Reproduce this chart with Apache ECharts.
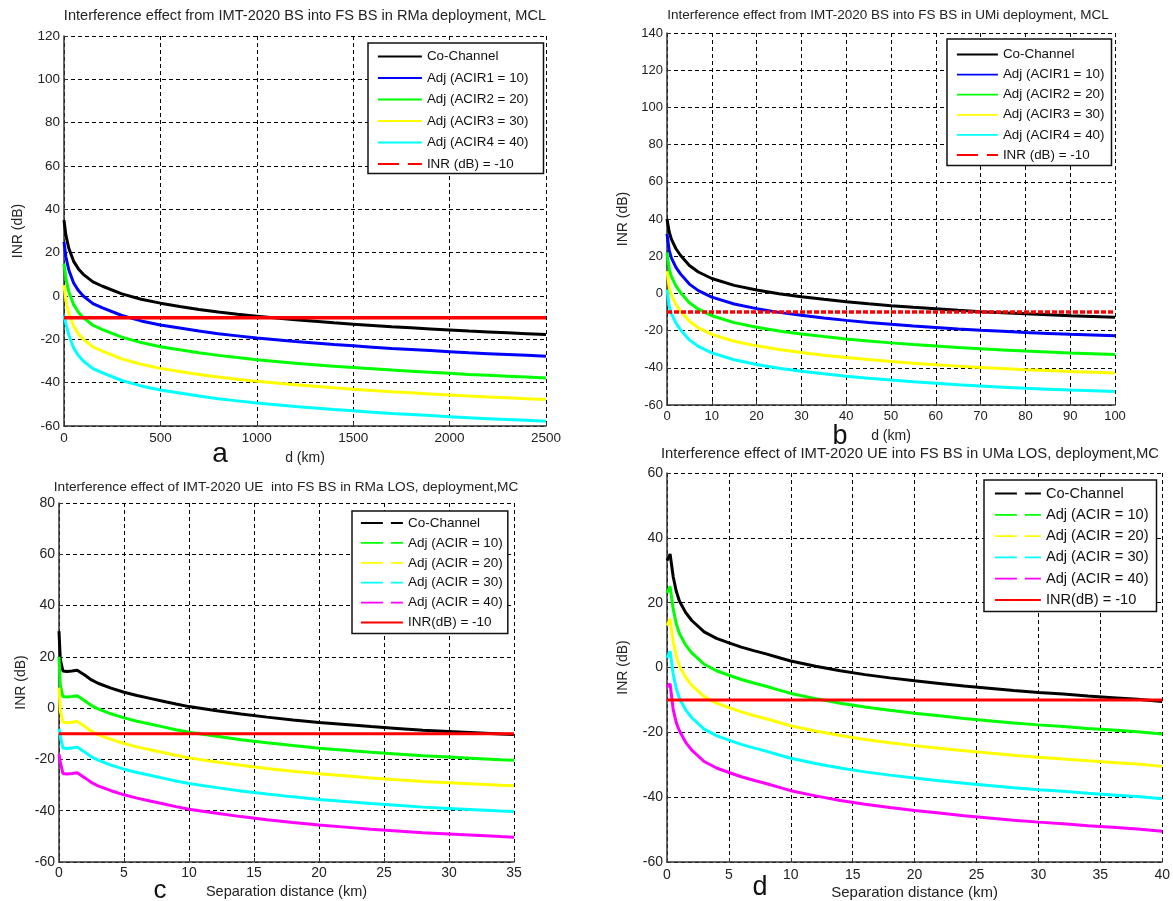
<!DOCTYPE html>
<html><head><meta charset="utf-8">
<script src="https://cdn.jsdelivr.net/npm/echarts@6/dist/echarts.min.js"></script>
<style>html,body{margin:0;padding:0;background:#fff}#c{width:1173px;height:901px}</style>
</head><body><div id="c"></div>
<script>
// ---------- Panel a: IMT-2020 BS into FS BS, RMa (d in km) ----------
const aX    = [0, 10, 25, 50, 75, 100, 150, 200, 300, 400, 500, 600, 700, 800, 900, 1000, 1100, 1200, 1300, 1400, 1500, 1600, 1700, 1800, 1900, 2000, 2100, 2200, 2300, 2400, 2500];
const aCo   = [35, 28, 22, 16, 12.5, 10, 6.5, 4.5, 1, -1.5, -3.3, -4.8, -6.2, -7.4, -8.4, -9.3, -10.2, -11, -11.7, -12.4, -13, -13.6, -14.2, -14.7, -15.2, -15.7, -16.2, -16.6, -17, -17.4, -17.8];
const aAdj1 = [25, 18, 12, 6, 2.5, 0, -3.5, -5.5, -9, -11.5, -13.4, -14.8, -16.2, -17.4, -18.4, -19.4, -20.2, -21, -21.7, -22.4, -23, -23.6, -24.2, -24.7, -25.2, -25.7, -26.2, -26.6, -27, -27.4, -27.8];
const aAdj2 = [15, 8, 2, -4, -7.5, -10, -13.5, -15.5, -19, -21.5, -23.4, -24.8, -26.2, -27.4, -28.4, -29.4, -30.2, -31, -31.7, -32.4, -33, -33.6, -34.2, -34.7, -35.2, -35.7, -36.2, -36.6, -37, -37.4, -37.8];
const aAdj3 = [5, -2, -8, -14, -17.5, -20, -23.5, -25.5, -29, -31.5, -33.4, -34.8, -36.2, -37.4, -38.4, -39.4, -40.2, -41, -41.7, -42.4, -43, -43.6, -44.2, -44.7, -45.2, -45.7, -46.2, -46.6, -47, -47.4, -47.8];
const aAdj4 = [-9, -13, -18, -24, -27.5, -30, -33.5, -35.5, -39, -41.5, -43.4, -44.8, -46.2, -47.4, -48.4, -49.4, -50.2, -51, -51.7, -52.4, -53, -53.6, -54.2, -54.7, -55.2, -55.7, -56.2, -56.6, -57, -57.4, -57.8];
const aInrX = [0, 2500];
const aInr  = [-10, -10];

// ---------- Panel b: IMT-2020 BS into FS BS, UMi ----------
const bX    = [0, 0.5, 1, 2, 3, 5, 7, 10, 15, 20, 25, 30, 35, 40, 45, 50, 55, 60, 65, 70, 75, 80, 85, 90, 95, 100];
const bCo   = [40, 33, 29, 24, 20.5, 15, 11.5, 8, 4.3, 1.8, -0.2, -1.8, -3.2, -4.5, -5.6, -6.6, -7.5, -8.3, -9.1, -9.8, -10.4, -11, -11.5, -12, -12.4, -12.8];
const bAdj1 = [32, 23, 19, 14, 10.5, 5, 1.5, -2, -5.7, -8.2, -10.2, -11.8, -13.2, -14.5, -15.6, -16.6, -17.5, -18.3, -19.1, -19.8, -20.4, -21, -21.5, -22, -22.4, -22.8];
const bAdj2 = [22, 13, 9, 4, 0.5, -5, -8.5, -12, -15.7, -18.2, -20.2, -21.8, -23.2, -24.5, -25.6, -26.6, -27.5, -28.3, -29.1, -29.8, -30.4, -31, -31.5, -32, -32.4, -32.8];
const bAdj3 = [12, 3, -1, -6, -9.5, -15, -18.5, -22, -25.7, -28.2, -30.2, -31.8, -33.2, -34.5, -35.6, -36.6, -37.5, -38.3, -39.1, -39.8, -40.4, -41, -41.5, -42, -42.4, -42.8];
const bAdj4 = [2, -7, -11, -16, -19.5, -25, -28.5, -32, -35.7, -38.2, -40.2, -41.8, -43.2, -44.5, -45.6, -46.6, -47.5, -48.3, -49.1, -49.8, -50.4, -51, -51.5, -52, -52.4, -52.8];
const bInrX = [0, 100];
const bInr  = [-10, -10];

// ---------- Panel c: IMT-2020 UE into FS BS, RMa LOS ----------
const cX    = [0, 0.1, 0.3, 0.6, 1, 1.4, 2, 2.5, 3, 4, 5, 6, 7, 8, 9, 10, 12, 14, 16, 18, 20, 22, 24, 26, 28, 30, 32, 34, 35];
const cCo   = [30, 19, 14.5, 14.3, 14.5, 14.8, 12.8, 11, 9.7, 7.8, 6.2, 4.9, 3.8, 2.7, 1.6, 0.6, -0.9, -2.3, -3.5, -4.6, -5.6, -6.4, -7.2, -7.9, -8.6, -9.1, -9.6, -10.1, -10.3];
const cAdj1 = [20, 9, 4.5, 4.3, 4.5, 4.8, 2.8, 1, -0.3, -2.2, -3.8, -5.1, -6.2, -7.3, -8.4, -9.4, -10.9, -12.3, -13.5, -14.6, -15.6, -16.4, -17.2, -17.9, -18.6, -19.1, -19.6, -20.1, -20.3];
const cAdj2 = [8, -1, -5.5, -5.7, -5.5, -5.2, -7.2, -9, -10.3, -12.2, -13.8, -15.1, -16.2, -17.3, -18.4, -19.4, -20.9, -22.3, -23.5, -24.6, -25.6, -26.4, -27.2, -27.9, -28.6, -29.1, -29.6, -30.1, -30.3];
const cAdj3 = [-8, -11, -15.5, -15.7, -15.5, -15.2, -17.2, -19, -20.3, -22.2, -23.8, -25.1, -26.2, -27.3, -28.4, -29.4, -30.9, -32.3, -33.5, -34.6, -35.6, -36.4, -37.2, -37.9, -38.6, -39.1, -39.6, -40.1, -40.3];
const cAdj4 = [-18, -21, -25.5, -25.7, -25.5, -25.2, -27.2, -29, -30.3, -32.2, -33.8, -35.1, -36.2, -37.3, -38.4, -39.4, -40.9, -42.3, -43.5, -44.6, -45.6, -46.4, -47.2, -47.9, -48.6, -49.1, -49.6, -50.1, -50.3];
const cInrX = [0, 35];
const cInr  = [-10, -10];

// ---------- Panel d: IMT-2020 UE into FS BS, UMa LOS ----------
const dX    = [0, 0.25, 0.5, 0.75, 1, 1.5, 2, 3, 4, 5, 6, 7, 8, 9, 10, 12, 14, 16, 18, 20, 22, 24, 26, 28, 30, 32, 34, 36, 38, 40];
const dCo   = [33, 35, 28, 23.5, 20.5, 17, 14.5, 11, 9, 7.6, 6.3, 5.2, 4.2, 3.1, 2, 0.4, -1, -2.2, -3.2, -4.1, -4.9, -5.7, -6.4, -7.1, -7.7, -8.2, -8.8, -9.3, -9.8, -10.5];
const dAdj1 = [23, 25, 18, 13.5, 10.5, 7, 4.5, 1, -1, -2.4, -3.7, -4.8, -5.8, -6.9, -8, -9.6, -11, -12.2, -13.2, -14.1, -14.9, -15.7, -16.4, -17.1, -17.7, -18.2, -18.8, -19.3, -19.8, -20.5];
const dAdj2 = [13, 15, 8, 3.5, 0.5, -3, -5.5, -9, -11, -12.4, -13.7, -14.8, -15.8, -16.9, -18, -19.6, -21, -22.2, -23.2, -24.1, -24.9, -25.7, -26.4, -27.1, -27.7, -28.2, -28.8, -29.3, -29.8, -30.5];
const dAdj3 = [3, 5, -2, -6.5, -9.5, -13, -15.5, -19, -21, -22.4, -23.7, -24.8, -25.8, -26.9, -28, -29.6, -31, -32.2, -33.2, -34.1, -34.9, -35.7, -36.4, -37.1, -37.7, -38.2, -38.8, -39.3, -39.8, -40.5];
const dAdj4 = [-6, -5, -13, -17, -19.5, -23, -25.5, -29, -31, -32.4, -33.7, -34.8, -35.8, -36.9, -38, -39.6, -41, -42.2, -43.2, -44.1, -44.9, -45.7, -46.4, -47.1, -47.7, -48.2, -48.8, -49.3, -49.8, -50.5];
const dInrX = [0, 40];
const dInr  = [-10, -10];

// ---------- Texts ----------
const titles = [
  'Interference effect from IMT-2020 BS into FS BS in RMa deployment, MCL',
  'Interference effect from IMT-2020 BS into FS BS in UMi deployment, MCL',
  'Interference effect of IMT-2020 UE  into FS BS in RMa LOS, deployment,MC',
  'Interference effect of IMT-2020 UE into FS BS in UMa LOS, deployment,MC'
];
const namesAB = ['Co-Channel', 'Adj (ACIR1 = 10)', 'Adj (ACIR2 = 20)', 'Adj (ACIR3 = 30)', 'Adj (ACIR4 = 40)', 'INR (dB) = -10'];
const namesCD = ['Co-Channel', 'Adj (ACIR = 10)', 'Adj (ACIR = 20)', 'Adj (ACIR = 30)', 'Adj (ACIR = 40)', 'INR(dB) = -10'];
const xNames = ['d (km)', 'd (km)', 'Separation distance (km)', 'Separation distance (km)'];
const yName = 'INR (dB)';
const panelLetters = ['a', 'b', 'c', 'd'];

// ---------- Layout / style ----------
const FONT = '"Liberation Sans", Arial, Helvetica, sans-serif';
const grids = [
  {left: 64,  top: 36,  width: 482, height: 390},
  {left: 667, top: 33,  width: 448, height: 372},
  {left: 59,  top: 503, width: 455, height: 359},
  {left: 667, top: 473, width: 496, height: 389}
];
const xCfg = [
  {max: 2500, interval: 500, fs: 13.5, margin: 5, nameGap: 25, nameFs: 14},
  {max: 100,  interval: 10,  fs: 13,   margin: 5, nameGap: 24, nameFs: 14},
  {max: 35,   interval: 5,   fs: 14,   margin: 4, nameGap: 22, nameFs: 14.5},
  {max: 40,   interval: 5,   fs: 14,   margin: 6, nameGap: 23, nameFs: 15}
];
const yCfg = [
  {min: -60, max: 120, interval: 20, fs: 13.5, nameGap: 39},
  {min: -60, max: 140, interval: 20, fs: 13,   nameGap: 37},
  {min: -60, max: 80,  interval: 20, fs: 14,   nameGap: 31},
  {min: -60, max: 60,  interval: 20, fs: 14,   nameGap: 37}
];
const gridLine = {show: true, lineStyle: {color: '#000', type: [4, 3], width: 1}};
const plain = v => String(v);

const xAxis = xCfg.map((c, i) => ({
  type: 'value', gridIndex: i, min: 0, max: c.max, interval: c.interval,
  name: xNames[i], nameLocation: 'middle', nameGap: c.nameGap,
  nameTextStyle: {fontFamily: FONT, fontSize: c.nameFs, color: '#222'},
  axisLine: {show: true, onZero: false, lineStyle: {color: '#333', width: 1.5}},
  axisTick: {show: true, inside: true, length: 4, lineStyle: {color: '#333'}},
  axisLabel: {fontFamily: FONT, fontSize: c.fs, color: '#222', margin: c.margin, formatter: plain},
  splitLine: gridLine
}));
const yAxis = yCfg.map((c, i) => ({
  type: 'value', gridIndex: i, min: c.min, max: c.max, interval: c.interval,
  name: yName, nameLocation: 'middle', nameGap: c.nameGap,
  nameTextStyle: {fontFamily: FONT, fontSize: 14, color: '#222'},
  axisLine: {show: true, onZero: false, lineStyle: {color: '#333', width: 1.5}},
  axisTick: {show: true, inside: true, length: 4, lineStyle: {color: '#333'}},
  axisLabel: {fontFamily: FONT, fontSize: c.fs, color: '#222', margin: 4, formatter: plain},
  splitLine: gridLine
}));

const COLORS = ['#000000', '#0000ff', '#00ff00', '#ffff00', '#00ffff', '#ff0000'];
const COLORS_CD = ['#000000', '#00ff00', '#ffff00', '#00ffff', '#ff00ff', '#ff0000'];

function mk(name, xs, ys, color, gi, width, type) {
  return {
    type: 'line', name: name, xAxisIndex: gi, yAxisIndex: gi,
    data: xs.map((x, k) => [x, ys[k]]),
    symbol: 'none', showSymbol: false, animation: false, silent: true,
    color: color, lineStyle: {color: color, width: width, type: type || 'solid'}
  };
}

const series = [
  mk(namesAB[0], aX, aCo,   COLORS[0], 0, 3),
  mk(namesAB[1], aX, aAdj1, COLORS[1], 0, 3),
  mk(namesAB[2], aX, aAdj2, COLORS[2], 0, 3),
  mk(namesAB[3], aX, aAdj3, COLORS[3], 0, 3),
  mk(namesAB[4], aX, aAdj4, COLORS[4], 0, 3),
  mk(namesAB[5], aInrX, aInr, COLORS[5], 0, 3.5),

  mk(namesAB[0], bX, bCo,   COLORS[0], 1, 3),
  mk(namesAB[1], bX, bAdj1, COLORS[1], 1, 3),
  mk(namesAB[2], bX, bAdj2, COLORS[2], 1, 3),
  mk(namesAB[3], bX, bAdj3, COLORS[3], 1, 3),
  mk(namesAB[4], bX, bAdj4, COLORS[4], 1, 3),
  mk(namesAB[5], bInrX, bInr, COLORS[5], 1, 3.5, [5, 2]),

  mk(namesCD[0], cX, cCo,   COLORS_CD[0], 2, 3),
  mk(namesCD[1], cX, cAdj1, COLORS_CD[1], 2, 3),
  mk(namesCD[2], cX, cAdj2, COLORS_CD[2], 2, 3),
  mk(namesCD[3], cX, cAdj3, COLORS_CD[3], 2, 3),
  mk(namesCD[4], cX, cAdj4, COLORS_CD[4], 2, 3),
  mk(namesCD[5], cInrX, cInr, COLORS_CD[5], 2, 3),

  mk(namesCD[0], dX, dCo,   COLORS_CD[0], 3, 3),
  mk(namesCD[1], dX, dAdj1, COLORS_CD[1], 3, 3),
  mk(namesCD[2], dX, dAdj2, COLORS_CD[2], 3, 3),
  mk(namesCD[3], dX, dAdj3, COLORS_CD[3], 3, 3),
  mk(namesCD[4], dX, dAdj4, COLORS_CD[4], 3, 3),
  mk(namesCD[5], dInrX, dInr, COLORS_CD[5], 3, 3)
];

function legendData(names, colors, dashOthers, dashLast) {
  return names.map((n, k) => {
    const last = k === names.length - 1;
    const dash = last ? dashLast : dashOthers;
    return {name: n, lineStyle: {color: colors[k], width: 1.8, type: dash}};
  });
}

const legendItemsAB = legendData(namesAB, COLORS, 'solid', [21, 9]);
const legendItemsCD = legendData(namesCD, COLORS_CD, [22, 8], 'solid');

const legends = [
  {left: 368, top: 43, items: legendItemsAB, fs: 13.4, iw: 44, gap: 8.5, pad: [7, 15, 3, 9]},
  {left: 947, top: 39, items: legendItemsAB, fs: 13.4, iw: 41, gap: 7.1, pad: [9, 7, 4, 9]},
  {left: 352, top: 511, items: legendItemsCD, fs: 13.5, iw: 42, gap: 5.9, pad: [5, 5, 4, 8]},
  {left: 984, top: 480, items: legendItemsCD, fs: 14.6, iw: 46, gap: 6.3, pad: [6, 8, 4, 10]}
].map(L => ({
  show: true, orient: 'vertical', left: L.left, top: L.top,
  data: L.items.map(it => ({name: it.name, lineStyle: it.lineStyle, itemStyle: {opacity: 0}})),
  itemWidth: L.iw, itemHeight: L.fs, itemGap: L.gap, padding: L.pad,
  backgroundColor: '#fff', borderColor: '#111', borderWidth: 1.5, borderRadius: 0,
  textStyle: {fontFamily: FONT, fontSize: L.fs, color: '#111'},
  selectedMode: false
}));

const titleCfg = [
  {x: 305, y: 8,   fs: 14.6},
  {x: 888, y: 8,   fs: 13.5},
  {x: 286, y: 480, fs: 13.7},
  {x: 910, y: 446, fs: 14.8}
];
const title = titleCfg.map((t, i) => ({
  text: titles[i], left: t.x, top: t.y, textAlign: 'center', padding: 0,
  textStyle: {fontFamily: FONT, fontSize: t.fs, fontWeight: 'normal', color: '#222'}
}));

const letterCfg = [
  {x: 220, y: 454, fs: 28},
  {x: 840, y: 437, fs: 27},
  {x: 160, y: 891, fs: 26},
  {x: 760, y: 888, fs: 27}
];
const graphic = letterCfg.map((l, i) => ({
  type: 'text', x: l.x, y: l.y, z: 100,
  style: {text: panelLetters[i], font: l.fs + 'px ' + FONT, fill: '#111', align: 'center', verticalAlign: 'middle'}
}));

const chart = echarts.init(document.getElementById('c'), null, {renderer: 'canvas'});
chart.setOption({
  backgroundColor: '#fff',
  animation: false,
  title: title,
  grid: grids,
  xAxis: xAxis,
  yAxis: yAxis,
  legend: legends,
  series: series,
  graphic: graphic
});
</script>
</body></html>
